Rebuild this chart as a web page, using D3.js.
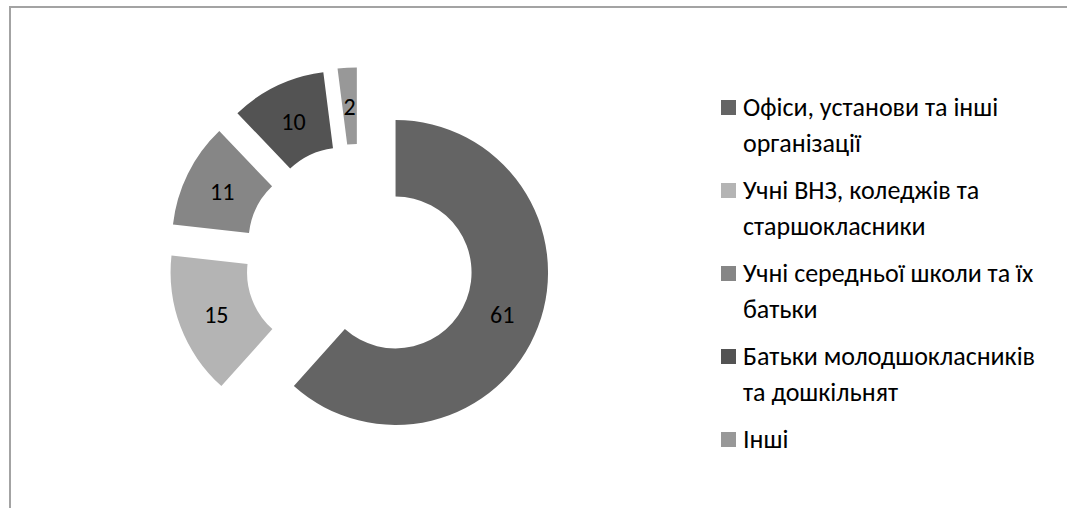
<!DOCTYPE html>
<html>
<head>
<meta charset="utf-8">
<script src="https://cdn.jsdelivr.net/npm/d3@7"></script>
<style>
  html, body { margin: 0; padding: 0; background: #fff; }
  svg { display: block; }
</style>
</head>
<body>
<svg id="chart" width="1067" height="508"></svg>
<script>
// Audience groups and their shares
const categories = [
  "Офіси, установи та інші організації",
  "Учні ВНЗ, коледжів та старшокласники",
  "Учні середньої школи та їх батьки",
  "Батьки молодшокласників та дошкільнят",
  "Інші"
];
// Legend text as it is broken into lines
const legendLines = [
  ["Офіси, установи та інші", "організації"],
  ["Учні ВНЗ, коледжів та", "старшокласники"],
  ["Учні середньої школи та їх", "батьки"],
  ["Батьки молодшокласників", "та дошкільнят"],
  ["Інші"]
];
const values = [61, 15, 11, 10, 2];
const colors = ["#646464", "#b4b4b4", "#868686", "#535353", "#989898"];

const svg = d3.select("#chart");
const fontFamily = "Carlito, 'Open Sans', 'Noto Sans', 'DejaVu Sans', sans-serif";
const labelSize = 24;
const legendSize = 26;

// Chart area frame
svg.append("rect")
  .attr("x", 10).attr("y", 7)
  .attr("width", 1080).attr("height", 520)
  .attr("fill", "none")
  .attr("stroke", "#a3a3a3")
  .attr("stroke-width", 2);

// Exploded doughnut
const cx = 359.3, cy = 258.6;
const outerR = 152.5, innerR = 76;
const explode = 38.8;

const pie = d3.pie().sort(null).value(d => d);
const arcs = pie(values);
const arc = d3.arc().innerRadius(innerR).outerRadius(outerR);

const g = svg.append("g").attr("transform", `translate(${cx},${cy})`);

const slice = g.selectAll("g.slice")
  .data(arcs)
  .join("g")
  .attr("class", "slice")
  .attr("transform", d => {
    const mid = (d.startAngle + d.endAngle) / 2;
    return `translate(${Math.sin(mid) * explode},${-Math.cos(mid) * explode})`;
  });

slice.append("path")
  .attr("d", arc)
  .attr("fill", (d, i) => colors[i]);

slice.append("text")
  .attr("transform", d => `translate(${arc.centroid(d)})`)
  .attr("dy", "0.35em")
  .attr("y", 1)
  .attr("text-anchor", "middle")
  .attr("font-family", fontFamily)
  .attr("font-size", labelSize)
  .attr("fill", "#000")
  .text(d => d.data);

// Legend
const legendX = 721, textX = 743;
const lineH = 36, itemGap = 47;
let y = 116;

const legend = svg.append("g");
legendLines.forEach((lines, i) => {
  const item = legend.append("g").attr("class", "legend-item").datum(categories[i]);
  item.append("rect")
    .attr("x", legendX).attr("y", y - 16)
    .attr("width", 15).attr("height", 15)
    .attr("fill", colors[i]);
  const text = item.append("text")
    .attr("font-family", fontFamily)
    .attr("font-size", legendSize)
    .attr("fill", "#000");
  lines.forEach((ln, k) => {
    text.append("tspan").attr("x", textX).attr("y", y + k * lineH).text(ln);
  });
  y += (lines.length - 1) * lineH + itemGap;
});
</script>
</body>
</html>
